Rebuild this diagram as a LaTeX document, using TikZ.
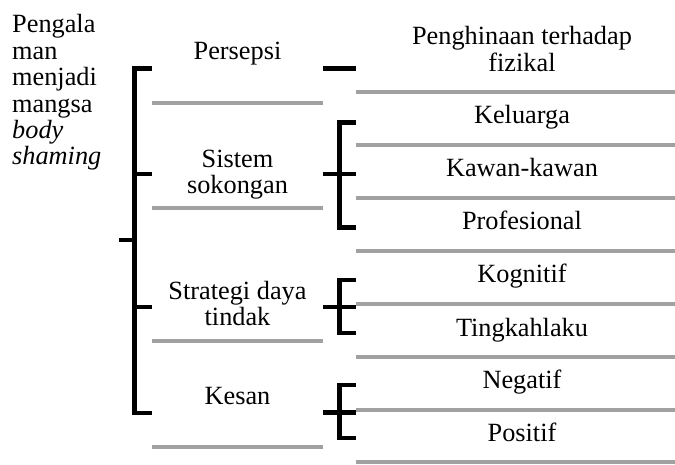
\documentclass[tikz,border=0pt]{standalone}
\usepackage{fontspec}
\setmainfont{Liberation Serif}
\begin{document}
\begin{tikzpicture}[x=1pt,y=-1pt,
  lbl/.style={inner sep=0pt, font=\fontsize{26.3}{26.5}\selectfont},
  brk/.style={line width=4.5pt, black, line join=miter},
  rule/.style={line width=4pt, draw=black!37}]
\useasboundingbox (0,0) rectangle (675,465);

% ---- theme and category labels ----
\node[lbl, anchor=base west, font=\fontsize{26.3}{26.4}\selectfont] (tema) at (12,33)
  {\begin{tabular}[t]{@{}l@{}}Pengala\\man\\menjadi\\mangsa\\\textit{body}\\\textit{shaming}\end{tabular}};

\node[lbl, anchor=base] (persepsi) at (237.5,60) {Persepsi};
\node[lbl, anchor=base] (sokongan) at (237.5,167.5)
  {\begin{tabular}[t]{@{}c@{}}Sistem\\sokongan\end{tabular}};
\node[lbl, anchor=base] (strategi) at (237.5,299)
  {\begin{tabular}[t]{@{}c@{}}Strategi daya\\tindak\end{tabular}};
\node[lbl, anchor=base] (kesan) at (237.5,404) {Kesan};

% ---- sub-category labels ----
\node[lbl, anchor=base] (fizikal) at (522,45)
  {\begin{tabular}[t]{@{}c@{}}Penghinaan terhadap\\fizikal\end{tabular}};
\node[lbl, anchor=base] (keluarga) at (522,123.5) {Keluarga};
\node[lbl, anchor=base] (kawan) at (522,176.5) {Kawan-kawan};
\node[lbl, anchor=base] (profesional) at (522,229.5) {Profesional};
\node[lbl, anchor=base] (kognitif) at (522,282.5) {Kognitif};
\node[lbl, anchor=base] (tingkah) at (522,336) {Tingkahlaku};
\node[lbl, anchor=base] (negatif) at (522,388) {Negatif};
\node[lbl, anchor=base] (positif) at (522,441) {Positif};

% ---- grey separators under the category column ----
\foreach \y in {103.3,208,341,447}
  \draw[rule] (152,\y) -- (323.3,\y);

% ---- grey separators under the sub-category column ----
\foreach \y in {92.3,144.7,198,251,304,357,410,462}
  \draw[rule] (355.7,\y) -- (675,\y);

% ---- main bracket ----
\coordinate (mTop) at (152,68.5);
\coordinate (mBot) at (152,413);
\coordinate (mStub) at (119.3,240);
\draw[brk] (mTop) -- (134.5,68.5) -- (134.5,413) -- (mBot);
\draw[brk] (mStub) -- (134.5,240);
\draw[brk] (134.5,173.8) -- (152,173.8);
\draw[brk] (134.5,307) -- (152,307);

% ---- sub-category brackets ----
\draw[brk] (323.3,68.7) -- (355.7,68.7);

\draw[brk] (355.7,122.7) -- (339.3,122.7) -- (339.3,227.5) -- (355.7,227.5);
\draw[brk] (323.3,173.8) -- (355.7,173.8);

\draw[brk] (355.7,280) -- (339.3,280) -- (339.3,333) -- (355.7,333);
\draw[brk] (323.3,307) -- (355.7,307);

\draw[brk] (355.7,385) -- (339.3,385) -- (339.3,438) -- (355.7,438);
\draw[brk] (323.3,412.5) -- (355.7,412.5);
\end{tikzpicture}
\end{document}
